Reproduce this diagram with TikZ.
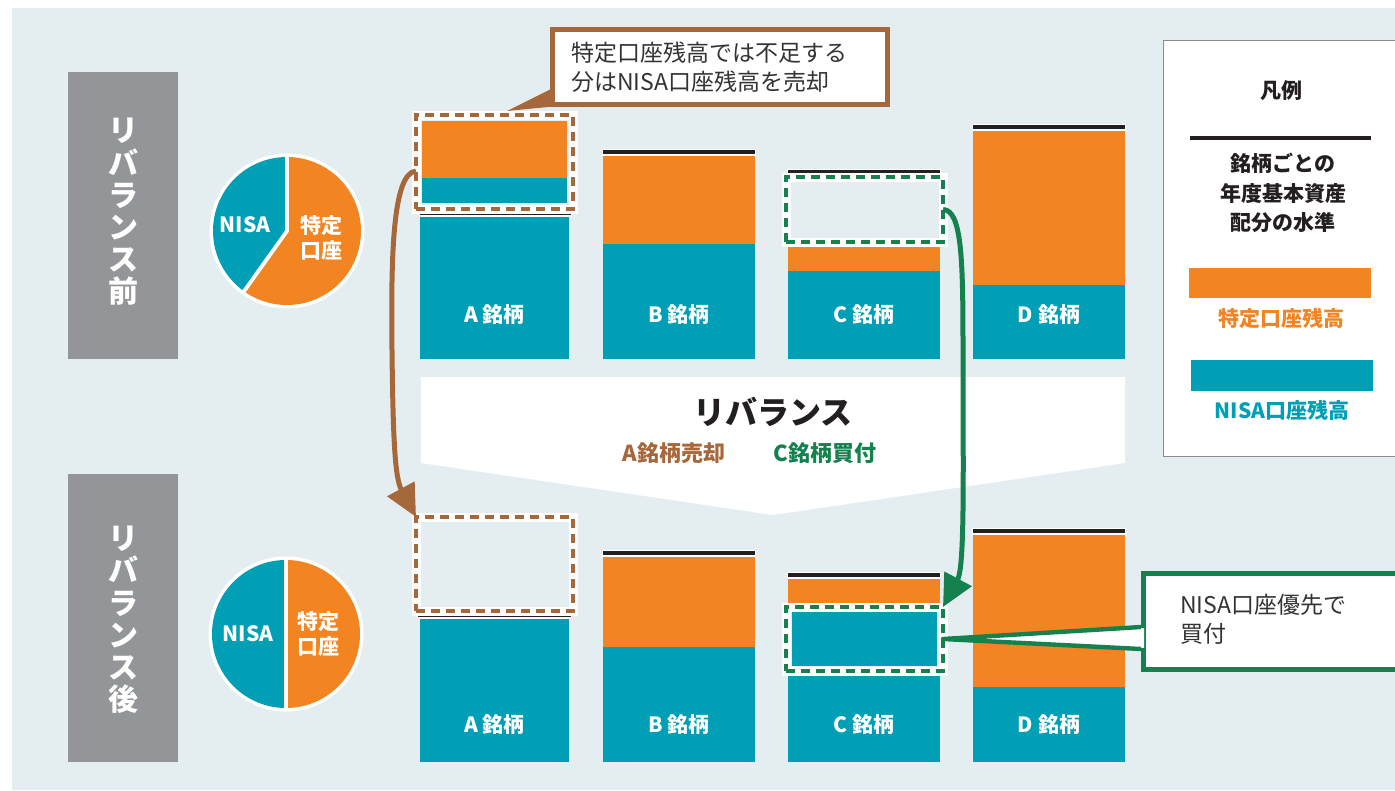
\documentclass[tikz,border=0pt]{standalone}
\usepackage{fontspec}
\setmainfont{Noto Sans CJK JP}
\usetikzlibrary{arrows.meta}
\definecolor{bgc}{HTML}{E4EEF1}
\definecolor{orangec}{HTML}{F28421}
\definecolor{tealc}{HTML}{009FB5}
\definecolor{brownc}{HTML}{A6683A}
\definecolor{greenc}{HTML}{15814F}
\definecolor{grayc}{HTML}{939598}
\definecolor{lvlc}{HTML}{231F20}
\definecolor{txtc}{HTML}{333333}
\definecolor{legc}{HTML}{8C8C8C}
\newcommand\lvl[3]{\fill[white] (#1-1,#3-3.5) rectangle (#2+1,#3+3.6); \fill[lvlc] (#1,#3-2.3) rectangle (#2,#3+2.3);}
\tikzset{
  barlbl/.style={text=white, font=\bfseries\fontsize{21}{24}\selectfont, inner sep=0},
  dbox/.style={rectangle, inner sep=0, outer sep=0, anchor=north west,
    preaction={draw=white, solid, line width=9pt}, draw=#1, line width=4.4pt, dash pattern=on 9pt off 6pt},
  arr/.style={line width=5pt, draw=#1, -{Triangle[length=32pt,width=30pt,fill=#1]}},
  vlbl/.style={text=white, font=\bfseries\fontsize{30}{32.2}\selectfont, align=center, inner sep=0},
  pielbl/.style={text=white, font=\bfseries\fontsize{21}{25}\selectfont, align=center, inner sep=0},
  calltxt/.style={text=txtc, font=\fontsize{23}{29}\selectfont, align=left, inner sep=0},
  legtxt/.style={font=\bfseries\fontsize{21}{29.5}\selectfont, align=center, inner sep=0},
}
\begin{document}
\begin{tikzpicture}[x=1pt,y=-1pt]
\useasboundingbox (0,0) rectangle (1395,790);
\fill[bgc] (12,8) rectangle (1400,790);

% left labels
\fill[grayc] (68,72) rectangle (178,359);
\node[vlbl] (pre) at (123,212) {リ\\バ\\ラ\\ン\\ス\\前};
\fill[grayc] (68,474) rectangle (178,762);
\node[vlbl] (post) at (123,620) {リ\\バ\\ラ\\ン\\ス\\後};

% pies
\coordinate (pie1) at (287,231);
\fill[white] (pie1) circle[radius=77.5pt];
\fill[tealc] (pie1) -- ++(90:74pt) arc[start angle=90, end angle=234.5, radius=74pt] -- cycle;
\fill[orangec] (pie1) -- ++(234.5:74pt) arc[start angle=234.5, end angle=450, radius=74pt] -- cycle;
\draw[white, line width=3.8pt, line join=round] ([yshift=76pt]pie1) -- (pie1) -- ++(234.5:76pt);
\node[pielbl] (p1n) at (245,225) {NISA};
\node[pielbl] (p1t) at (321,237.5) {特定\\口座};

\coordinate (pie2) at (286,634);
\fill[white] (pie2) circle[radius=77.5pt];
\fill[tealc] (pie2) -- ++(90:74pt) arc[start angle=90, end angle=270, radius=74pt] -- cycle;
\fill[orangec] (pie2) -- ++(270:74pt) arc[start angle=270, end angle=450, radius=74pt] -- cycle;
\draw[white, line width=3.8pt] ([yshift=76pt]pie2) -- ([yshift=-76pt]pie2);
\node[pielbl] (p2n) at (248,634) {NISA};
\node[pielbl] (p2t) at (318,634) {特定\\口座};

% banner
\fill[white] (421,377) -- (1125,377) -- (1125,463) -- (773,515) -- (421,463) -- cycle;
\node[font=\bfseries\fontsize{32}{36}\selectfont, text=lvlc, inner sep=0] (reb) at (773,412) {リバランス};
\node[font=\bfseries\fontsize{22}{26}\selectfont, text=brownc, inner sep=0] (sellA) at (674,453) {A銘柄売却};
\node[font=\bfseries\fontsize{22}{26}\selectfont, text=greenc, inner sep=0] (buyC) at (825,453) {C銘柄買付};

% ---- top row
\lvl{420}{571}{213}
\fill[tealc] (420,217) rectangle (569,359);
\fill[orangec] (422,121) rectangle (567,178);
\fill[tealc] (422,178) rectangle (567,203);
\node[dbox=brownc, minimum width=157pt, minimum height=94pt] (selA) at (416,115) {};
\node[barlbl] (la1) at (494.5,315) {A 銘柄};

\lvl{603}{755}{152}
\fill[orangec] (603,156) rectangle (755,244);
\fill[tealc] (603,244) rectangle (755,359);
\node[barlbl] (lb1) at (679,315) {B 銘柄};

\lvl{788}{940}{172}
\fill[orangec] (788,244) rectangle (940,271);
\fill[tealc] (788,271) rectangle (940,359);
\node[dbox=greenc, minimum width=157pt, minimum height=65pt] (selC) at (786,177) {};
\node[barlbl] (lc1) at (864,315) {C 銘柄};

\lvl{973}{1125}{127}
\fill[orangec] (973,131) rectangle (1125,285);
\fill[tealc] (973,285) rectangle (1125,359);
\node[barlbl] (ld1) at (1049,315) {D 銘柄};

% ---- bottom row
\lvl{418}{571}{615}
\fill[tealc] (420,619) rectangle (569,762);
\node[dbox=brownc, minimum width=157pt, minimum height=94pt] (selA2) at (416,517) {};
\node[barlbl] (la2) at (494.5,725) {A 銘柄};

\lvl{603}{755}{553}
\fill[orangec] (603,557) rectangle (755,647);
\fill[tealc] (603,647) rectangle (755,762);
\node[barlbl] (lb2) at (679,725) {B 銘柄};

\lvl{788}{940}{575}
\fill[orangec] (788,579) rectangle (940,605);
\fill[tealc] (792,612) rectangle (937,666);
\fill[tealc] (788,674) rectangle (940,762);
\node[dbox=greenc, minimum width=157pt, minimum height=64pt] (selC2) at (786,607) {};
\node[barlbl] (lc2) at (864,725) {C 銘柄};

\lvl{973}{1125}{531}
\fill[orangec] (973,535) rectangle (1125,687);
\fill[tealc] (973,687) rectangle (1125,762);
\node[barlbl] (ld2) at (1049,725) {D 銘柄};

% arrows
\draw[arr=brownc] ([yshift=-9pt]selA.west) .. controls (392,173) and (391,260) .. (392,350) .. controls (393,440) and (395,478) .. (selA2.north west);
\draw[arr=greenc] (selC.east) .. controls (962,210) and (963,260) .. (963,350) .. controls (963,470) and (965,566) .. (selC2.north east);

% brown callout
\node[draw=brownc, line width=4.6pt, fill=white, minimum width=335pt, minimum height=75pt, inner sep=0, anchor=north west] (noteA) at (550,27) {};
\fill[brownc] (507,111) -- ([yshift=18pt, xshift=2pt]noteA.south west) -- ([yshift=0pt, xshift=2pt]noteA.south west) -- cycle;
\node[calltxt, anchor=west] (noteAt) at (571,67) {特定口座残高では不足する\\分はNISA口座残高を売却};

% green callout
\node[draw=greenc, line width=4.6pt, fill=white, minimum width=270pt, minimum height=96pt, inner sep=0, anchor=north west] (noteC) at (1141,571) {};
\fill[white] (selC2.east) -- (1144,628) -- (1144,648) -- cycle;
\draw[greenc, line width=4.4pt, line join=round] (1141,627) -- (selC2.east) -- (1141,649);
\node[calltxt, anchor=west] (noteCt) at (1180,619) {NISA口座優先で\\買付};

% legend
\node[draw=legc, fill=white, line width=1.3pt, minimum width=240pt, minimum height=416pt, inner sep=0, anchor=north west] (legend) at (1163,40) {};
\node[legtxt, text=lvlc] (legT) at (1281,91) {凡例};
\draw[lvlc, line width=4.4pt] (1190,138) -- (1371,138);
\node[legtxt, text=lvlc] (legL) at (1283,193) {銘柄ごとの\\年度基本資産\\配分の水準};
\fill[orangec] (1189,268) rectangle (1371,298);
\node[legtxt, text=orangec] (legO) at (1281,318) {特定口座残高};
\fill[tealc] (1191,360) rectangle (1373,391);
\node[legtxt, text=tealc] (legN) at (1282,410) {NISA口座残高};
\end{tikzpicture}
\end{document}
